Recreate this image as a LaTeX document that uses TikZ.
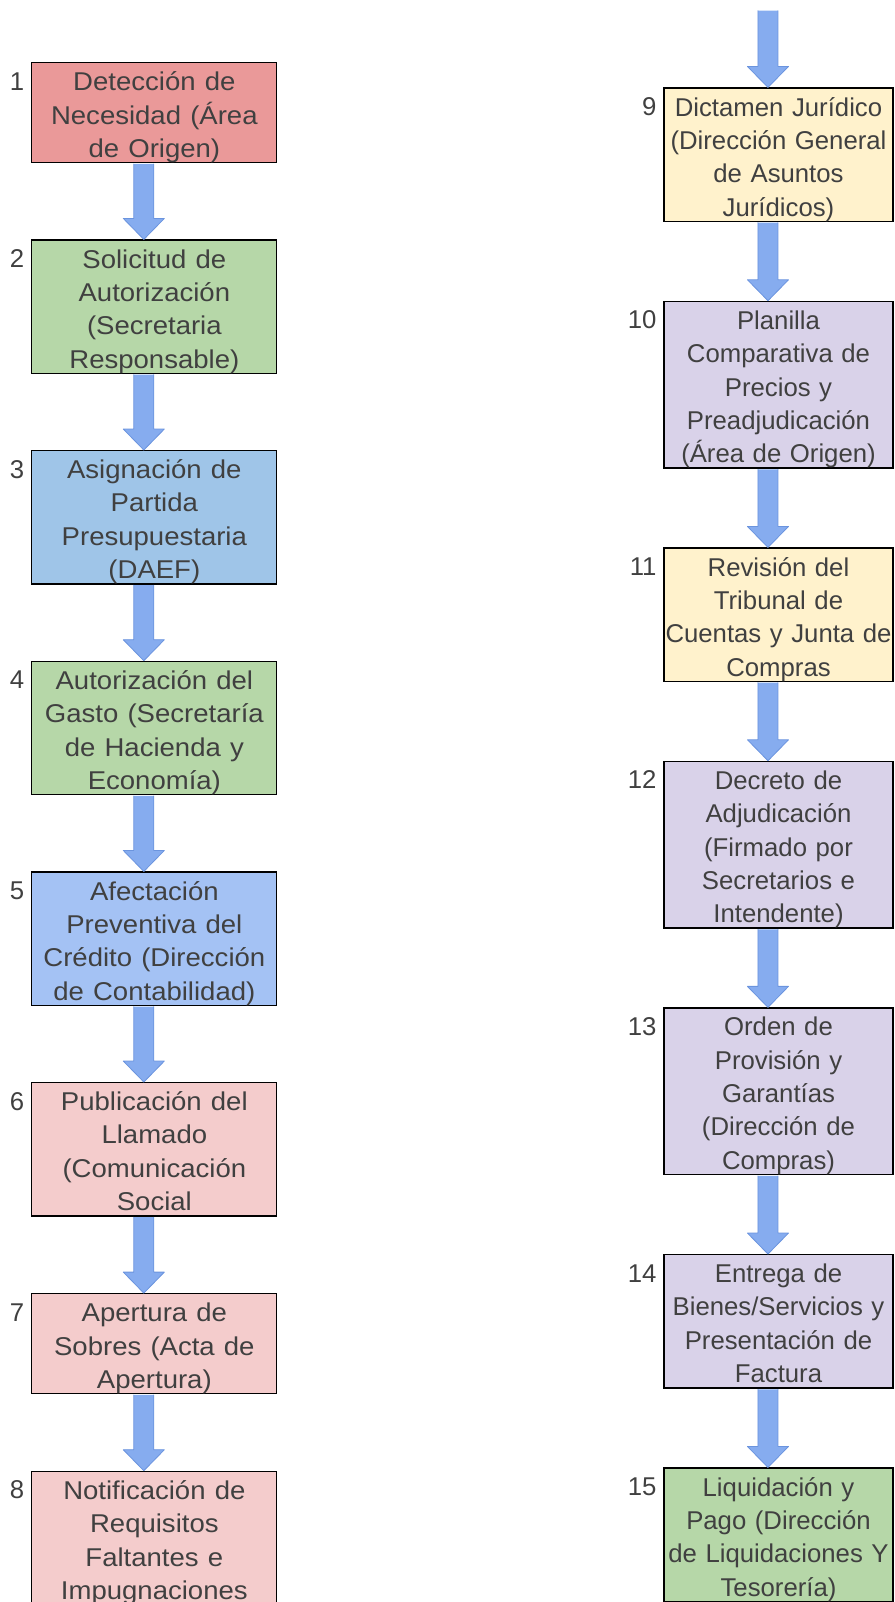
\documentclass[tikz,border=0pt]{standalone}
\usepackage{fontspec}
\setmainfont{Liberation Sans}
\usepackage{tikz}
\usetikzlibrary{calc}

\definecolor{textgris}{HTML}{404040}
\definecolor{rojo}{HTML}{EA9999}
\definecolor{rosa}{HTML}{F4CCCC}
\definecolor{verde}{HTML}{B6D7A8}
\definecolor{celeste}{HTML}{9FC5E8}
\definecolor{azul}{HTML}{A4C2F4}
\definecolor{amarillo}{HTML}{FFF2CC}
\definecolor{lila}{HTML}{D9D2E9}
\definecolor{azulflecha}{HTML}{86ACEF}
\definecolor{bordeflecha}{HTML}{6B94DE}

% block arrow from one anchor down to the next box
\newcommand{\flowarrow}[2]{%
  \filldraw[flecha] let \p1=(#1), \p2=(#2) in
    (\x1-0.4pt,\y1-0.5pt) -- (\x1-0.4pt,\y2+15.75pt) -- (\x1+7.5pt,\y2+15.75pt)
    -- (\x1-7.9pt,\y2) -- (\x1-23.3pt,\y2+15.75pt) -- (\x1-15.4pt,\y2+15.75pt)
    -- (\x1-15.4pt,\y1-0.5pt);
}

\begin{document}
\begin{tikzpicture}[line cap=round,line join=round,x=0.75pt,y=-0.75pt,
  paso/.style={draw=black,line width=0.9pt,line cap=butt,line join=miter,rectangle,
    inner sep=0pt,text width=171.75pt,minimum width=171.75pt,align=center,text=textgris,
    font=\fontsize{19.3}{25}\selectfont,
    execute at begin node={\rule{0pt}{21pt}},execute at end node={\rule[-4pt]{0pt}{4pt}}},
  izq/.style={paso,xscale=1.07},
  num/.style={anchor=base east,inner sep=0pt,text=textgris,font=\fontsize{19.3}{25}\selectfont},
  flecha/.style={fill=azulflecha,draw=bordeflecha,line width=0.6pt}]
\useasboundingbox (0,0) rectangle (894,1602);
\clip (0,0) rectangle (894,1602);
% left column
\node[izq,fill=rojo] (b1) at (154.35,112.7) {Detección de\\Necesidad (Área\\de Origen)};
\node[izq,fill=verde] (b2) at (154.35,306.7) {Solicitud de\\Autorización\\(Secretaria\\Responsable)};
\node[izq,fill=celeste] (b3) at (154.35,517.3) {Asignación de\\Partida\\Presupuestaria\\(DAEF)};
\node[izq,fill=verde] (b4) at (154.35,728) {Autorización del\\Gasto (Secretaría\\de Hacienda y\\Economía)};
\node[izq,fill=azul] (b5) at (154.35,938.7) {Afectación\\Preventiva del\\Crédito (Dirección\\de Contabilidad)};
\node[izq,fill=rosa] (b6) at (154.35,1149.3) {Publicación del\\Llamado\\(Comunicación\\Social};
\node[izq,fill=rosa] (b7) at (154.35,1343.7) {Apertura de\\Sobres (Acta de\\Apertura)};
\node[izq,fill=rosa] (b8) at (154.35,1538) {Notificación de\\Requisitos\\Faltantes e\\Impugnaciones};
% right column
\coordinate (top9) at (778.5,10);
\node[paso,fill=amarillo] (b9) at (778.5,154.7) {Dictamen Jurídico\\(Dirección General\\de Asuntos\\Jurídicos)};
\node[paso,fill=lila] (b10) at (778.5,384.7) {Planilla\\Comparativa de\\Precios y\\Preadjudicación\\(Área de Origen)};
\node[paso,fill=amarillo] (b11) at (778.5,614.7) {Revisión del\\Tribunal de\\Cuentas y Junta de\\Compras};
\node[paso,fill=lila] (b12) at (778.5,844.7) {Decreto de\\Adjudicación\\(Firmado por\\Secretarios e\\Intendente)};
\node[paso,fill=lila] (b13) at (778.5,1091.3) {Orden de\\Provisión y\\Garantías\\(Dirección de\\Compras)};
\node[paso,fill=lila] (b14) at (778.5,1321.3) {Entrega de\\Bienes/Servicios y\\Presentación de\\Factura};
\node[paso,fill=verde] (b15) at (778.5,1534.7) {Liquidación y\\Pago (Dirección\\de Liquidaciones Y\\Tesorería)};
% step numbers
\foreach \i in {1,...,15}
  \node[num] (n\i) at ([xshift=-5pt,yshift=-21pt]b\i.north west) {\i};
% arrows
\foreach \i/\j in {1/2,2/3,3/4,4/5,5/6,6/7,7/8,9/10,10/11,11/12,12/13,13/14,14/15}
  \flowarrow{b\i.south}{b\j.north};
\flowarrow{top9}{b9.north};
\end{tikzpicture}
\end{document}
